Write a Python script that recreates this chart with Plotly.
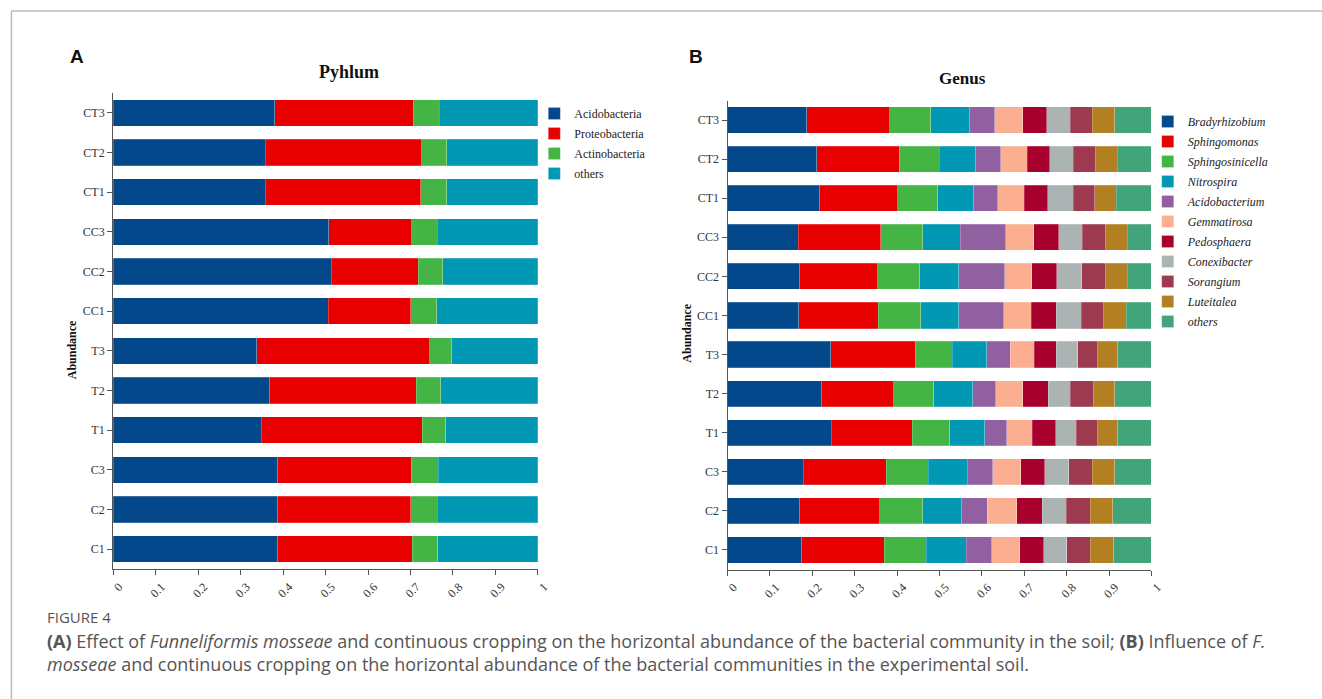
import plotly.graph_objects as go

W, H = 1322, 699

samples = ["C1", "C2", "C3", "T1", "T2", "T3", "CC1", "CC2", "CC3", "CT1", "CT2", "CT3"]

# Phylum relative abundance (panel A)
phylum_names = ["Acidobacteria", "Proteobacteria", "Actinobacteria", "others"]
acidobacteria = [0.388, 0.387, 0.388, 0.349, 0.369, 0.338, 0.506, 0.513, 0.508, 0.358, 0.358, 0.381]
proteobacteria = [0.316, 0.314, 0.314, 0.379, 0.345, 0.407, 0.194, 0.205, 0.195, 0.366, 0.368, 0.326]
actinobacteria = [0.060, 0.062, 0.063, 0.055, 0.057, 0.052, 0.062, 0.058, 0.060, 0.061, 0.059, 0.061]
phylum_others = [0.236, 0.237, 0.235, 0.217, 0.229, 0.203, 0.238, 0.224, 0.237, 0.215, 0.215, 0.232]
phylum_values = [acidobacteria, proteobacteria, actinobacteria, phylum_others]
phylum_colors = ["#03488a", "#e80000", "#44b444", "#0198b4"]

# Genus relative abundance (panel B)
genus_names = ["Bradyrhizobium", "Sphingomonas", "Sphingosinicella", "Nitrospira", "Acidobacterium",
               "Gemmatirosa", "Pedosphaera", "Conexibacter", "Sorangium", "Luteitalea", "others"]
bradyrhizobium = [0.175, 0.170, 0.179, 0.245, 0.222, 0.244, 0.168, 0.170, 0.167, 0.217, 0.210, 0.187]
sphingomonas = [0.195, 0.189, 0.195, 0.191, 0.170, 0.199, 0.187, 0.184, 0.195, 0.185, 0.195, 0.196]
sphingosinicella = [0.099, 0.101, 0.100, 0.088, 0.095, 0.087, 0.101, 0.100, 0.098, 0.094, 0.095, 0.096]
nitrospira = [0.094, 0.093, 0.092, 0.083, 0.092, 0.082, 0.090, 0.091, 0.089, 0.085, 0.086, 0.092]
acidobacterium = [0.060, 0.060, 0.060, 0.052, 0.054, 0.055, 0.106, 0.109, 0.107, 0.057, 0.058, 0.059]
gemmatirosa = [0.066, 0.069, 0.066, 0.060, 0.064, 0.057, 0.065, 0.064, 0.067, 0.062, 0.063, 0.066]
pedosphaera = [0.057, 0.060, 0.056, 0.055, 0.060, 0.052, 0.059, 0.059, 0.058, 0.055, 0.053, 0.057]
conexibacter = [0.054, 0.057, 0.057, 0.049, 0.051, 0.050, 0.058, 0.059, 0.056, 0.061, 0.056, 0.055]
sorangium = [0.056, 0.057, 0.055, 0.051, 0.055, 0.048, 0.054, 0.055, 0.054, 0.050, 0.051, 0.053]
luteitalea = [0.055, 0.053, 0.053, 0.047, 0.050, 0.047, 0.053, 0.052, 0.052, 0.051, 0.052, 0.053]
genus_others = [0.089, 0.091, 0.087, 0.079, 0.087, 0.079, 0.059, 0.057, 0.057, 0.083, 0.081, 0.086]
genus_values = [bradyrhizobium, sphingomonas, sphingosinicella, nitrospira, acidobacterium,
                gemmatirosa, pedosphaera, conexibacter, sorangium, luteitalea, genus_others]
genus_colors = ["#03488a", "#e80000", "#44b444", "#0198b4", "#9060a0", "#fcae90",
                "#a8002c", "#abb3b3", "#9e3a50", "#b28022", "#42a47a"]

x_ticks = [0, 0.1, 0.2, 0.3, 0.4, 0.5, 0.6, 0.7, 0.8, 0.9, 1]
x_ticktext = ["0", "0.1", "0.2", "0.3", "0.4", "0.5", "0.6", "0.7", "0.8", "0.9", "1"]

SERIF = "Liberation Serif, Times New Roman, serif"
SANS = "Open Sans, Noto Sans, sans-serif"


def px(x):
    return x / W


def py(y):
    return 1 - y / H


fig = go.Figure()

for name, vals, col in zip(phylum_names, phylum_values, phylum_colors):
    fig.add_trace(go.Bar(
        x=vals, y=samples, orientation="h", name=name,
        marker=dict(color=col, line=dict(width=0.6, color="rgba(255,255,255,0.35)")),
        xaxis="x", yaxis="y", legend="legend", legendgroup="p_" + name,
        hoverinfo="name+x",
    ))

for name, vals, col in zip(genus_names, genus_values, genus_colors):
    fig.add_trace(go.Bar(
        x=vals, y=samples, orientation="h", name="<i>" + name + "</i>",
        marker=dict(color=col, line=dict(width=0.6, color="rgba(255,255,255,0.35)")),
        xaxis="x2", yaxis="y2", legend="legend2", legendgroup="g_" + name,
        hoverinfo="name+x",
    ))

axis_common = dict(
    showline=True, linecolor="#555", linewidth=1,
    ticks="outside", ticklen=5, tickcolor="#555",
    showgrid=False, zeroline=False,
    tickfont=dict(family=SERIF, size=12, color="#333"),
)

fig.update_layout(
    width=W, height=H,
    margin=dict(l=0, r=0, t=0, b=0),
    paper_bgcolor="white", plot_bgcolor="white",
    barmode="stack", bargap=0.33,
    showlegend=True,
    xaxis=dict(domain=[px(112.3), px(541.7)], range=[0, 1], anchor="y",
               tickvals=x_ticks, ticktext=x_ticktext, tickangle=-45, ticklabelshift=6, **axis_common),
    yaxis=dict(domain=[py(569), py(93)], anchor="x", type="category",
               categoryorder="array", categoryarray=samples, range=[-0.5, 11.5], **axis_common),
    xaxis2=dict(domain=[px(733.3), px(1161.7)], range=[0, 1], anchor="y2",
                tickvals=x_ticks, ticktext=x_ticktext, tickangle=-45, ticklabelshift=6, **axis_common),
    yaxis2=dict(domain=[py(569.5), py(100.5)], anchor="x2", type="category",
                categoryorder="array", categoryarray=samples, range=[-0.5, 11.5], **axis_common),
    legend=dict(x=px(538), y=py(99), xanchor="left", yanchor="top",
                traceorder="grouped", tracegroupgap=1,
                font=dict(family=SERIF, size=12, color="#222"),
                bgcolor="rgba(0,0,0,0)"),
    legend2=dict(x=px(1158), y=py(107), xanchor="left", yanchor="top",
                 traceorder="grouped", tracegroupgap=1,
                 font=dict(family=SERIF, size=12, color="#222"),
                 bgcolor="rgba(0,0,0,0)"),
)

# Figure frame
fig.add_shape(type="line", xref="paper", yref="paper", x0=px(9.5), x1=1.01, y0=py(11), y1=py(11),
              line=dict(color="#bbbbbb", width=1.5))
fig.add_shape(type="line", xref="paper", yref="paper", x0=px(9.5), x1=px(9.5), y0=py(11), y1=-0.01,
              line=dict(color="#bbbbbb", width=1.5))

annotations = [
    dict(text="<b>A</b>", x=px(67), y=py(56), font=dict(family="Liberation Sans, Arial, sans-serif", size=19, color="#111"),
         xanchor="left", yanchor="middle"),
    dict(text="<b>B</b>", x=px(692), y=py(56), font=dict(family="Liberation Sans, Arial, sans-serif", size=19, color="#111"),
         xanchor="left", yanchor="middle"),
    dict(text="<b>Pyhlum</b>", x=px(351), y=py(72), font=dict(family=SERIF, size=18, color="#111"),
         xanchor="center", yanchor="middle"),
    dict(text="<b>Genus</b>", x=px(971), y=py(78), font=dict(family=SERIF, size=17, color="#111"),
         xanchor="center", yanchor="middle"),
    dict(text="<b>Abundance</b>", x=px(71), y=py(350), textangle=-90,
         font=dict(family=SERIF, size=12, color="#111"), xanchor="center", yanchor="middle"),
    dict(text="<b>Abundance</b>", x=px(692), y=py(333), textangle=-90,
         font=dict(family=SERIF, size=12, color="#111"), xanchor="center", yanchor="middle"),
    dict(text="FIGURE 4", x=px(43), y=py(617), font=dict(family=SANS, size=15, color="#555"),
         xanchor="left", yanchor="middle"),
    dict(text="<b>(A)</b> Effect of <i>Funneliformis mosseae</i> and continuous cropping on the horizontal abundance "
              "of the bacterial community in the soil; <b>(B)</b> Influence of <i>F.</i>",
         x=px(43), y=py(641), font=dict(family=SANS, size=18, color="#555"), xanchor="left", yanchor="middle"),
    dict(text="<i>mosseae</i> and continuous cropping on the horizontal abundance of the bacterial communities "
              "in the experimental soil.",
         x=px(43), y=py(664), font=dict(family=SANS, size=18, color="#555"), xanchor="left", yanchor="middle"),
]
for a in annotations:
    a.setdefault("xref", "paper")
    a.setdefault("yref", "paper")
    a["showarrow"] = False
    fig.add_annotation(**a)

fig.write_html(
    "out.html",
    config={"displayModeBar": False},
    post_script="document.body.style.margin='0';document.body.style.padding='0';"
                "document.body.style.overflow='hidden';",
)
